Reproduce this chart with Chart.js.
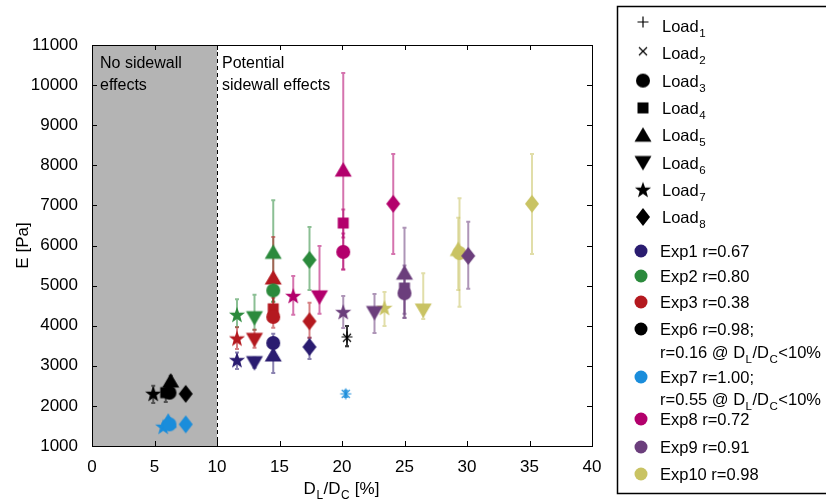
<!DOCTYPE html>
<html>
<head>
<meta charset="utf-8">
<script src="https://cdn.jsdelivr.net/npm/chart.js@4.4.1/dist/chart.umd.min.js"></script>
<style>
  html, body { margin: 0; padding: 0; background: #fff; }
  #wrap { position: relative; width: 826px; height: 501px; }
</style>
</head>
<body>
<div id="wrap"><canvas id="c" width="826" height="501"></canvas></div>
<script>
// Elastic modulus E against loading-diameter ratio D_L/D_C, one series per experiment,
// marker shape = load step. Error bars give the spread of each measurement.

const X_TICKS = [0, 5, 10, 15, 20, 25, 30, 35, 40];
const Y_TICKS = [1000, 2000, 3000, 4000, 5000, 6000, 7000, 8000, 9000, 10000, 11000];
const SHADE_RANGE = [0, 10];          // D_L/D_C < 10 %: no sidewall effects

const LOAD_MARKERS = ['plus', 'cross', 'circle', 'square', 'triUp', 'triDown', 'star', 'diamond'];

const EXP_NAMES = ['Exp1', 'Exp2', 'Exp3', 'Exp6', 'Exp7', 'Exp8', 'Exp9', 'Exp10'];
const EXP_COLORS = ['#2a1c70', '#2b8a3c', '#b4191f', '#000000', '#1a8ddb', '#b3006c', '#6b3e7c', '#c9c363'];

// Exp1
const exp1D    = [11.6, 13.0, 14.5, 14.5, 17.4];
const exp1E    = [3140, 3080, 3570, 3270, 3470];
const exp1Load = [7, 6, 3, 5, 8];
const exp1Lo   = [2920, 2950, 3350, 2820, 3170];
const exp1Hi   = [3330, 3200, 3800, 3600, 3700];
// Exp2
const exp2D    = [11.6, 13.0, 14.5, 14.5, 17.4];
const exp2E    = [4270, 4200, 5830, 4880, 5640];
const exp2Load = [7, 6, 5, 3, 8];
const exp2Lo   = [3970, 3900, 4600, 4600, 4890];
const exp2Hi   = [4660, 4770, 7130, 5200, 6460];
// Exp3
const exp3D    = [11.6, 13.0, 14.5, 14.5, 14.5, 17.4];
const exp3E    = [3680, 3660, 5190, 4420, 4220, 4110];
const exp3Load = [7, 6, 5, 4, 3, 8];
const exp3Lo   = [3420, 3450, 4300, 4150, 3950, 3700];
const exp3Hi   = [3960, 3900, 6210, 4700, 4500, 4570];
// Exp6
const exp6D    = [4.9, 5.9, 6.2, 6.3, 7.5, 20.4, 20.4];
const exp6E    = [2300, 2330, 2330, 2620, 2300, 3720, 3700];
const exp6Load = [7, 4, 3, 5, 8, 1, 2];
const exp6Lo   = [2070, 2100, 2200, 2500, 2200, 3490, 3490];
const exp6Hi   = [2500, 2450, 2450, 2750, 2400, 3990, 3990];
// Exp7
const exp7D    = [5.7, 6.1, 6.2, 7.5, 20.3, 20.3];
const exp7E    = [1480, 1620, 1540, 1540, 2300, 2300];
const exp7Load = [7, 5, 3, 8, 1, 2];
const exp7Lo   = [1420, 1550, 1480, 1480, 2220, 2220];
const exp7Hi   = [1560, 1700, 1600, 1600, 2380, 2380];
// Exp8
const exp8D    = [16.1, 18.2, 20.1, 20.1, 20.1, 24.1];
const exp8E    = [4740, 4720, 7880, 6560, 5840, 7040];
const exp8Load = [7, 6, 5, 4, 3, 8];
const exp8Lo   = [4270, 4300, 5400, 6200, 5400, 5790];
const exp8Hi   = [5240, 5990, 10300, 6900, 6300, 8280];
// Exp9
const exp9D    = [20.1, 22.6, 25.0, 25.0, 25.0, 30.1];
const exp9E    = [4340, 4330, 5310, 4940, 4810, 5740];
const exp9Load = [7, 6, 5, 4, 3, 8];
const exp9Lo   = [3940, 3820, 4200, 4300, 4190, 4920];
const exp9Hi   = [4740, 4790, 6440, 5500, 5400, 6590];
// Exp10
const exp10D    = [23.4, 26.5, 29.3, 29.4, 35.2];
const exp10E    = [4440, 4390, 5900, 5810, 7040];
const exp10Load = [7, 6, 5, 3, 8];
const exp10Lo   = [3990, 4170, 4890, 4470, 5790];
const exp10Hi   = [4840, 5310, 6690, 7180, 8280];

const SERIES = [
  [exp1D, exp1E, exp1Load, exp1Lo, exp1Hi],
  [exp2D, exp2E, exp2Load, exp2Lo, exp2Hi],
  [exp3D, exp3E, exp3Load, exp3Lo, exp3Hi],
  [exp6D, exp6E, exp6Load, exp6Lo, exp6Hi],
  [exp7D, exp7E, exp7Load, exp7Lo, exp7Hi],
  [exp8D, exp8E, exp8Load, exp8Lo, exp8Hi],
  [exp9D, exp9E, exp9Load, exp9Lo, exp9Hi],
  [exp10D, exp10E, exp10Load, exp10Lo, exp10Hi]
];

// legend rows
const LOAD_LABELS = ['1', '2', '3', '4', '5', '6', '7', '8'];
const EXP_LABELS = [
  ['Exp1 r=0.67'],
  ['Exp2 r=0.80'],
  ['Exp3 r=0.38'],
  ['Exp6 r=0.98;', 'r=0.16 @ D_L/D_C<10%'],
  ['Exp7 r=1.00;', 'r=0.55 @ D_L/D_C<10%'],
  ['Exp8 r=0.72'],
  ['Exp9 r=0.91'],
  ['Exp10 r=0.98']
];

const FONT = '"Liberation Sans", Arial, Helvetica, sans-serif';

function hexA(hex, a) {
  const n = parseInt(hex.slice(1), 16);
  return `rgba(${(n >> 16) & 255},${(n >> 8) & 255},${n & 255},${a})`;
}

// filled/stroked marker glyphs drawn onto small canvases, used as Chart.js point styles
function markerPath(ctx, shape, c) {
  ctx.beginPath();
  if (shape === 'circle') {
    ctx.arc(c, c, 7, 0, Math.PI * 2);
  } else if (shape === 'square') {
    ctx.rect(c - 5.5, c - 5.5, 11, 11);
  } else if (shape === 'triUp') {
    ctx.moveTo(c, c - 8); ctx.lineTo(c + 8.5, c + 6.5); ctx.lineTo(c - 8.5, c + 6.5); ctx.closePath();
  } else if (shape === 'triDown') {
    ctx.moveTo(c, c + 8); ctx.lineTo(c + 8.5, c - 6.5); ctx.lineTo(c - 8.5, c - 6.5); ctx.closePath();
  } else if (shape === 'diamond') {
    ctx.moveTo(c, c - 9); ctx.lineTo(c + 7, c); ctx.lineTo(c, c + 9); ctx.lineTo(c - 7, c); ctx.closePath();
  } else if (shape === 'star') {
    const R = 8.5, r = 3.5;
    for (let i = 0; i < 10; i++) {
      const rad = i % 2 ? r : R;
      const ang = -Math.PI / 2 + i * Math.PI / 5;
      const px = c + rad * Math.cos(ang), py = c + 0.5 + rad * Math.sin(ang);
      if (i === 0) ctx.moveTo(px, py); else ctx.lineTo(px, py);
    }
    ctx.closePath();
  }
}

function makeMarker(shape, color) {
  const S = 24, c = S / 2;
  const cv = document.createElement('canvas');
  cv.width = S; cv.height = S;
  const ctx = cv.getContext('2d');
  ctx.fillStyle = color; ctx.strokeStyle = color;
  if (shape === 'plus') {
    ctx.lineWidth = 1.2;
    ctx.beginPath(); ctx.moveTo(c - 5.5, c); ctx.lineTo(c + 5.5, c); ctx.moveTo(c, c - 5.5); ctx.lineTo(c, c + 5.5); ctx.stroke();
  } else if (shape === 'cross') {
    ctx.lineWidth = 1.2;
    ctx.beginPath(); ctx.moveTo(c - 4, c - 4); ctx.lineTo(c + 4, c + 4); ctx.moveTo(c + 4, c - 4); ctx.lineTo(c - 4, c + 4); ctx.stroke();
  } else {
    markerPath(ctx, shape, c);
    ctx.fill();
  }
  return cv;
}

const markerCache = {};
function marker(shape, color) {
  const k = shape + color;
  if (!markerCache[k]) markerCache[k] = makeMarker(shape, color);
  return markerCache[k];
}

const datasets = SERIES.map(([d, e, load, lo, hi], i) => ({
  label: EXP_NAMES[i],
  data: d.map((v, j) => ({ x: v, y: e[j] })),
  showLine: false,
  pointStyle: load.map(l => marker(LOAD_MARKERS[l - 1], EXP_COLORS[i])),
  pointRadius: 7,
  pointHoverRadius: 7,
  errLo: lo,
  errHi: hi,
  color: EXP_COLORS[i]
}));

// text with "_X" segments rendered as subscripts
function drawRich(ctx, text, x, y, size) {
  const parts = text.split(/(_[A-Z0-9])/);
  let cx = x;
  for (const p of parts) {
    if (!p) continue;
    if (p[0] === '_') {
      ctx.font = `${size * 0.7}px ${FONT}`;
      ctx.fillText(p[1], cx + 0.5, y + 5);
      cx += ctx.measureText(p[1]).width + 1;
    } else {
      ctx.font = `${size}px ${FONT}`;
      ctx.fillText(p, cx, y);
      cx += ctx.measureText(p).width;
    }
  }
  return cx - x;
}
function richWidth(ctx, text, size) {
  const parts = text.split(/(_[A-Z0-9])/);
  let w = 0;
  for (const p of parts) {
    if (!p) continue;
    if (p[0] === '_') { ctx.font = `${size * 0.7}px ${FONT}`; w += ctx.measureText(p[1]).width + 1.5; }
    else { ctx.font = `${size}px ${FONT}`; w += ctx.measureText(p).width; }
  }
  return w;
}

const figurePlugin = {
  id: 'figure',
  beforeDatasetsDraw(chart) {
    const { ctx, chartArea: a, scales: { x, y } } = chart;
    ctx.save();
    // shaded region and its dashed border
    const x0 = x.getPixelForValue(SHADE_RANGE[0]);
    const x1 = x.getPixelForValue(SHADE_RANGE[1]);
    ctx.fillStyle = '#b4b4b4';
    ctx.fillRect(x0, a.top, x1 - x0, a.bottom - a.top);
    ctx.strokeStyle = '#000';
    ctx.lineWidth = 1;
    ctx.setLineDash([4, 3]);
    ctx.beginPath();
    ctx.moveTo(Math.round(x1) + 0.5, a.top);
    ctx.lineTo(Math.round(x1) + 0.5, a.bottom);
    ctx.stroke();
    ctx.setLineDash([]);

    // region captions
    ctx.fillStyle = '#000';
    ctx.font = `16px ${FONT}`;
    ctx.textBaseline = 'alphabetic';
    ctx.textAlign = 'left';
    ctx.fillText('No sidewall', x0 + 8, a.top + 23);
    ctx.fillText('effects', x0 + 8, a.top + 45);
    ctx.fillText('Potential', x1 + 5, a.top + 23);
    ctx.fillText('sidewall effects', x1 + 5, a.top + 45);

    // error bars
    chart.data.datasets.forEach(ds => {
      ctx.strokeStyle = hexA(ds.color, 0.55);
      ctx.lineWidth = 2;
      ds.data.forEach((p, j) => {
        const px = x.getPixelForValue(p.x);
        const yl = y.getPixelForValue(ds.errLo[j]);
        const yh = y.getPixelForValue(ds.errHi[j]);
        ctx.beginPath();
        ctx.moveTo(px, yl); ctx.lineTo(px, yh);
        ctx.moveTo(px - 2, yl); ctx.lineTo(px + 2, yl);
        ctx.moveTo(px - 2, yh); ctx.lineTo(px + 2, yh);
        ctx.stroke();
      });
    });
    ctx.restore();
  },
  afterDatasetsDraw(chart) {
    const { ctx, chartArea: a, scales: { x, y } } = chart;
    ctx.save();
    // axes box with inward ticks on all four sides
    ctx.strokeStyle = '#000';
    ctx.lineWidth = 1;
    ctx.strokeRect(a.left + 0.5, a.top + 0.5, a.right - a.left, a.bottom - a.top);
    ctx.beginPath();
    X_TICKS.forEach(v => {
      const px = Math.round(x.getPixelForValue(v)) + 0.5;
      ctx.moveTo(px, a.bottom); ctx.lineTo(px, a.bottom - 5);
      ctx.moveTo(px, a.top); ctx.lineTo(px, a.top + 5);
    });
    Y_TICKS.forEach(v => {
      const py = Math.round(y.getPixelForValue(v)) + 0.5;
      ctx.moveTo(a.left, py); ctx.lineTo(a.left + 5, py);
      ctx.moveTo(a.right, py); ctx.lineTo(a.right - 5, py);
    });
    ctx.stroke();

    // axis titles
    ctx.fillStyle = '#000';
    ctx.textBaseline = 'alphabetic';
    const xt = 'D_L/D_C [%]';
    const w = richWidth(ctx, xt, 17);
    drawRich(ctx, xt, (a.left + a.right) / 2 - w / 2, 494, 17);
    ctx.save();
    ctx.translate(28, (a.top + a.bottom) / 2);
    ctx.rotate(-Math.PI / 2);
    ctx.font = `17px ${FONT}`;
    ctx.textAlign = 'center';
    ctx.fillText('E [Pa]', 0, 0);
    ctx.restore();

    // legend box
    const lx = 617, ly = 6;
    ctx.lineWidth = 1.5;
    ctx.strokeRect(lx + 0.5, ly + 0.5, 240, 487);
    ctx.textAlign = 'left';
    const loadBase = [32, 59.3, 86.6, 113.9, 141.2, 168.5, 195.8, 223];
    LOAD_LABELS.forEach((s, i) => {
      const m = marker(LOAD_MARKERS[i], '#000');
      const by = loadBase[i];
      const my = i === 0 ? by - 10 : (i === 1 ? by - 8 : by - 6);
      ctx.drawImage(m, 643 - m.width / 2, my - m.height / 2);
      drawRich(ctx, 'Load_' + s, 662, by, 16.5);
    });
    const expBase = [[257], [282], [308], [335, 358], [383, 405], [425], [453], [480]];
    EXP_LABELS.forEach((lines, i) => {
      ctx.fillStyle = EXP_COLORS[i];
      ctx.beginPath();
      ctx.arc(641, expBase[i][0] - 6, 6.5, 0, Math.PI * 2);
      ctx.fill();
      ctx.fillStyle = '#000';
      lines.forEach((t, k) => drawRich(ctx, t, 660, expBase[i][k], 16.5));
    });
    ctx.restore();
  }
};

Chart.defaults.font.family = FONT;
Chart.defaults.color = '#000';

new Chart(document.getElementById('c'), {
  type: 'scatter',
  data: { datasets },
  options: {
    responsive: false,
    animation: false,
    events: [],
    layout: { padding: { left: 0, top: 45, right: 234, bottom: 0 } },
    plugins: { legend: { display: false }, tooltip: { enabled: false } },
    scales: {
      x: {
        type: 'linear', min: 0, max: 40,
        afterBuildTicks: s => { s.ticks = X_TICKS.map(v => ({ value: v })); },
        afterFit: s => { s.height = 55; },
        grid: { display: false },
        border: { display: false },
        ticks: { font: { size: 17 }, padding: 3, maxRotation: 0, autoSkip: false, callback: v => String(v) }
      },
      y: {
        type: 'linear', min: 1000, max: 11000,
        afterBuildTicks: s => { s.ticks = Y_TICKS.map(v => ({ value: v })); },
        afterFit: s => { s.width = 92; },
        grid: { display: false },
        border: { display: false },
        ticks: { font: { size: 17 }, padding: 6, autoSkip: false, callback: v => String(v) }
      }
    }
  },
  plugins: [figurePlugin]
});
</script>
</body>
</html>
